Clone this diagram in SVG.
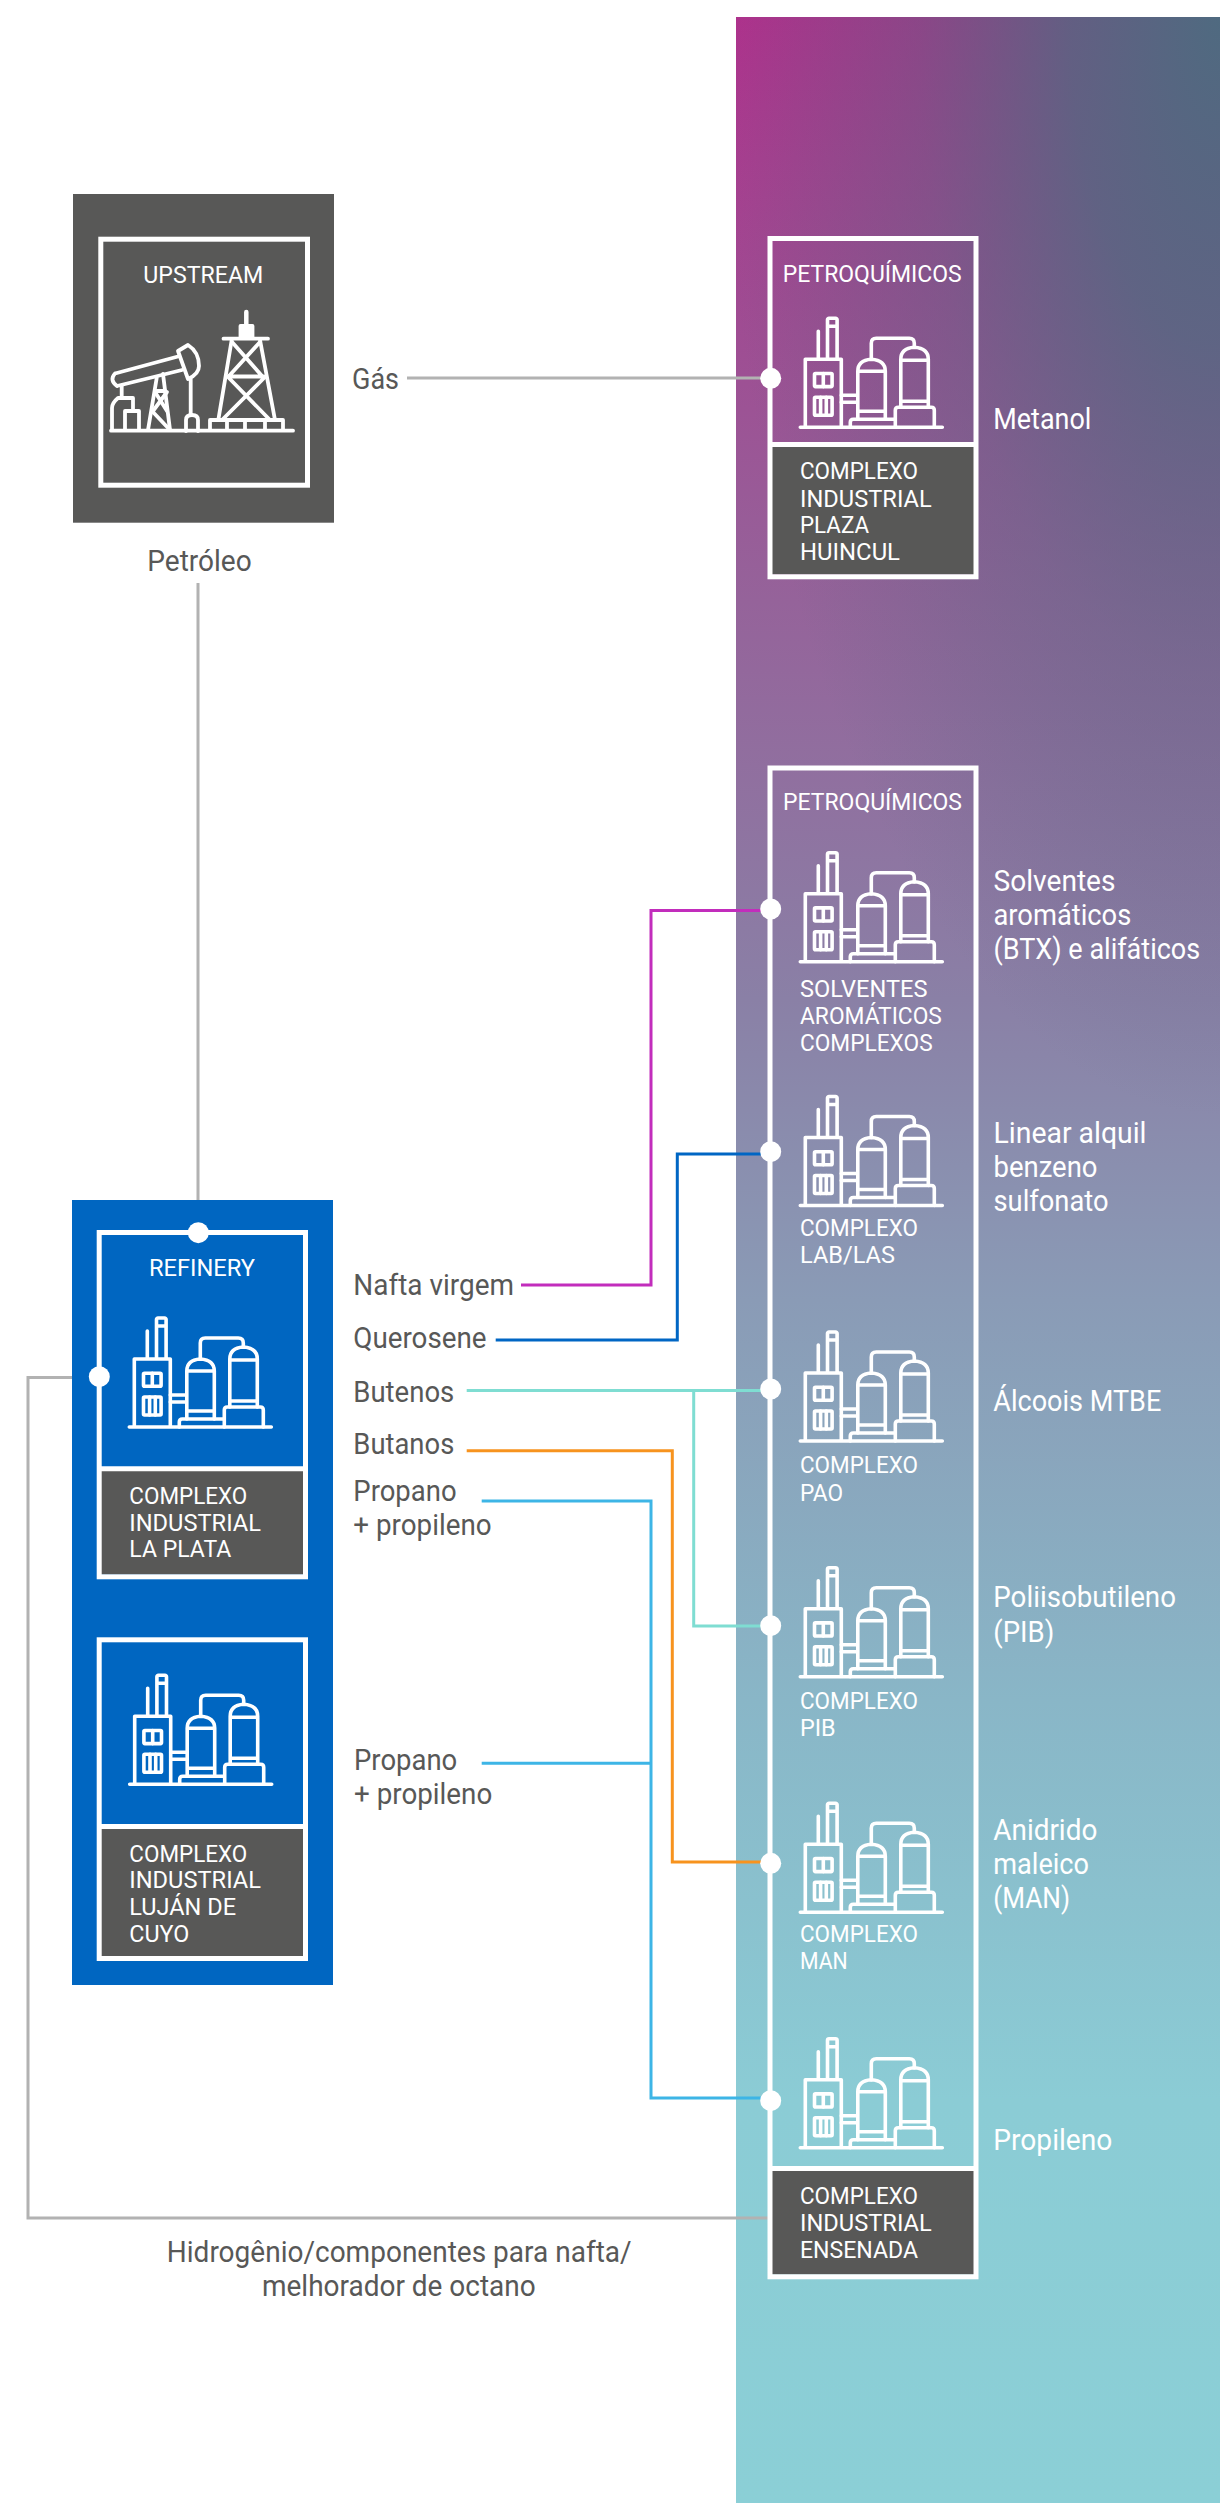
<svg xmlns="http://www.w3.org/2000/svg" xmlns:xlink="http://www.w3.org/1999/xlink" width="1220" height="2503" viewBox="0 0 1220 2503">
<style>
text{font-family:"Roboto","Liberation Sans",sans-serif;font-weight:400;}
.b{font-size:24.5px;fill:#fff;}
.lw{font-size:29px;fill:#fff;}
.ld{font-size:29px;fill:#585857;}
.box{fill:none;stroke:#fff;stroke-width:5;}
.dark{fill:#585857;}
.c{fill:none;stroke-width:3;}
.dot{fill:#fff;}
</style>
<defs>
<linearGradient id="gv" gradientUnits="userSpaceOnUse" x1="0" y1="17" x2="0" y2="2503">
<stop offset="0" stop-color="#B0308C"/><stop offset="0.114" stop-color="#A04A92"/><stop offset="0.235" stop-color="#95639A"/><stop offset="0.395" stop-color="#8A80A6"/><stop offset="0.516" stop-color="#8A9BB6"/><stop offset="0.677" stop-color="#89B6C7"/><stop offset="0.838" stop-color="#8BCCD5"/><stop offset="1" stop-color="#8BCFD6"/>
</linearGradient>
<radialGradient id="gr" gradientUnits="userSpaceOnUse" cx="0" cy="0" r="1" gradientTransform="translate(1220 17) scale(500 1100)">
<stop offset="0" stop-color="#4F6A80" stop-opacity="1"/><stop offset="0.3" stop-color="#4F6A80" stop-opacity="0.8"/><stop offset="0.6" stop-color="#4F6A80" stop-opacity="0.38"/><stop offset="1" stop-color="#4F6A80" stop-opacity="0"/>
</radialGradient>
<g id="plant" fill="none" stroke="#fff" stroke-width="3.6" stroke-linecap="round" stroke-linejoin="round">
<path d="M2,0H144M7,0V-68H43V0M29.200,-68V-107.500a1.500,1.500 0 0 1 1.500,-1.500H37.300a1.500,1.500 0 0 1 1.500,1.500V-68M29.200,-101H38.800M20,-68V-96"/>
<rect x="16.200" y="-53.800" width="17.600" height="13.100" rx="1"/><path d="M25,-53.800V-40.700"/>
<rect x="16.200" y="-30" width="17.600" height="18" rx="1"/><path d="M22.300,-30V-12M28,-30V-12"/>
<path d="M43,-32H58M43,-25H58"/>
<path d="M59.500,-8V-56Q59.500,-67 73,-68Q87,-67 87,-56V-8M59.500,-56H87M59.500,-16H87"/>
<path d="M52,0V-5Q52,-8 55,-8H96"/>
<path d="M102.500,-20V-68Q102.500,-79 116,-80Q130,-79 130,-68V-20M102.500,-67H130M102.500,-26H130"/>
<path d="M97,0V-17Q97,-20 100,-20H133Q136,-20 136,-17V0"/>
<path d="M73,-68V-84Q73,-89 78,-89H111Q116,-89 116,-84V-80"/>
</g>
</defs>
<rect width="1220" height="2503" fill="#fff"/>
<g id="background">
<rect x="736" y="17" width="484" height="2486" fill="url(#gv)"/>
<rect x="736" y="17" width="484" height="2486" fill="url(#gr)"/>
</g>
<g id="connectors">
<path class="c" stroke="#B2B2B2" d="M407,378H768"/>
<path class="c" stroke="#B2B2B2" d="M198,583V1200"/>
<path class="c" stroke="#B2B2B2" d="M72,1377.500H28V2218H768"/>
<path class="c" stroke="#C22DBC" d="M521,1285H651V910.500H768"/>
<path class="c" stroke="#0066C4" d="M495.700,1340H677.300V1154H768"/>
<path class="c" stroke="#7FDDD2" d="M466.700,1390.500H768M693.700,1390.500V1626H768"/>
<path class="c" stroke="#F7931E" d="M466.700,1450.700H672.300V1862H768"/>
<path class="c" stroke="#3DB5E6" d="M481.700,1501H651V2098H768M481.700,1763.300H651"/>
</g>
<g id="upstream">
<rect x="73" y="194" width="261" height="328.700" class="dark"/>
<rect x="100.800" y="239.200" width="206.700" height="246" class="box"/>
<text class="b" x="143.300" y="282.700" textLength="120" lengthAdjust="spacingAndGlyphs">UPSTREAM</text>
<g id="oil-icon" fill="none" stroke="#fff" stroke-width="3.800" stroke-linecap="round" stroke-linejoin="round">
<path d="M111,430.700H293"/>
<path d="M210,430V420H283V430M227,420V430M245,420V430M265,420V430"/>
<path d="M223.500,338.700H268M231.700,340L218.300,420M260,340L275,420"/>
<path d="M232,342L262,376M260,342L229,376M228,376.500H264M228,377L270,420M265,377L222,420"/>
<path d="M246.300,312V326" stroke-width="4.500"/>
<rect x="240.500" y="326" width="12" height="12" fill="#fff"/>
<path d="M115,373.500L178,356.500M117,386L182,370M115,373.500Q109,380 117,386"/>
<path d="M178,351L188,345Q199,352 199,366Q199,374 188,379Z"/>
<path d="M190.700,379V415"/>
<path d="M186,431V420Q186,415 192,415Q198,415 198,420V431"/>
<path d="M156.700,378L148,430M163,374L170,430"/>
<path d="M155,391H165M155,392L167,411M167,392L153,411M152,411L170,430"/>
<path d="M121.700,386V397"/>
<path d="M112,430V408Q112,403 118,398H133V410"/>
<path d="M125,430V411H139V430"/>
</g>
<text class="ld" x="147.300" y="571" textLength="104.400" lengthAdjust="spacingAndGlyphs">Petróleo</text>
</g>
<text id="gas-label" class="ld" x="352" y="389" textLength="47" lengthAdjust="spacingAndGlyphs">Gás</text>
<g id="petro-huincul">
<rect x="772" y="447" width="202" height="127.300" class="dark"/>
<rect x="770" y="238.500" width="206" height="338.300" class="box"/>
<path class="box" d="M770,444.500H976"/>
<circle class="dot" cx="770.700" cy="378.300" r="10.500"/>
<text class="b" x="782.700" y="281.700" textLength="179" lengthAdjust="spacingAndGlyphs">PETROQUÍMICOS</text>
<use href="#plant" xlink:href="#plant" transform="translate(798.300 427.300)"/>
<text class="b" x="800" y="479.300" textLength="118" lengthAdjust="spacingAndGlyphs">COMPLEXO</text>
<text class="b" x="800" y="506.700" textLength="131.700" lengthAdjust="spacingAndGlyphs">INDUSTRIAL</text>
<text class="b" x="800" y="533.300" textLength="69" lengthAdjust="spacingAndGlyphs">PLAZA</text>
<text class="b" x="800" y="560" textLength="100" lengthAdjust="spacingAndGlyphs">HUINCUL</text>
<text class="lw" x="993.300" y="428.700" textLength="98" lengthAdjust="spacingAndGlyphs">Metanol</text>
</g>
<g id="refinery">
<rect x="72" y="1200" width="261" height="785" fill="#0066C1"/>
<g id="la-plata">
<rect x="101" y="1471" width="203" height="103.500" class="dark"/>
<rect x="99.200" y="1232.500" width="206.300" height="344.300" class="box"/>
<path class="box" d="M99.200,1468.800H305.500"/>
<circle class="dot" cx="198.300" cy="1232.700" r="10.500"/>
<circle class="dot" cx="99.300" cy="1376.700" r="10.500"/>
<text class="b" x="149" y="1275.700" textLength="106" lengthAdjust="spacingAndGlyphs">REFINERY</text>
<use href="#plant" xlink:href="#plant" transform="translate(127.300 1427)"/>
<text class="b" x="129.300" y="1504.300" textLength="118" lengthAdjust="spacingAndGlyphs">COMPLEXO</text>
<text class="b" x="129.300" y="1530.700" textLength="131.700" lengthAdjust="spacingAndGlyphs">INDUSTRIAL</text>
<text class="b" x="129.300" y="1557.300" textLength="102" lengthAdjust="spacingAndGlyphs">LA PLATA</text>
</g>
<g id="lujan">
<rect x="101" y="1829" width="203" height="127.500" class="dark"/>
<rect x="99.200" y="1639.800" width="206.300" height="318.700" class="box"/>
<path class="box" d="M99.200,1826.400H305.500"/>
<use href="#plant" xlink:href="#plant" transform="translate(127.700 1784.300)"/>
<text class="b" x="129.300" y="1861.700" textLength="118" lengthAdjust="spacingAndGlyphs">COMPLEXO</text>
<text class="b" x="129.300" y="1888.300" textLength="131.700" lengthAdjust="spacingAndGlyphs">INDUSTRIAL</text>
<text class="b" x="129.300" y="1915" textLength="106.700" lengthAdjust="spacingAndGlyphs">LUJÁN DE</text>
<text class="b" x="129.300" y="1941.700" textLength="60" lengthAdjust="spacingAndGlyphs">CUYO</text>
</g>
</g>
<g id="product-labels">
<text class="ld" x="353.300" y="1295" textLength="160.700" lengthAdjust="spacingAndGlyphs">Nafta virgem</text>
<text class="ld" x="353.300" y="1348" textLength="133.300" lengthAdjust="spacingAndGlyphs">Querosene</text>
<text class="ld" x="353.300" y="1401.700" textLength="101" lengthAdjust="spacingAndGlyphs">Butenos</text>
<text class="ld" x="353.300" y="1454" textLength="101" lengthAdjust="spacingAndGlyphs">Butanos</text>
<text class="ld" x="353.300" y="1500.700" textLength="103.300" lengthAdjust="spacingAndGlyphs">Propano</text>
<text class="ld" x="353.300" y="1535" textLength="138.300" lengthAdjust="spacingAndGlyphs">+ propileno</text>
<text class="ld" x="354" y="1770" textLength="103.300" lengthAdjust="spacingAndGlyphs">Propano</text>
<text class="ld" x="354" y="1804.300" textLength="138.300" lengthAdjust="spacingAndGlyphs">+ propileno</text>
<text class="ld" x="166.800" y="2261.700" textLength="464.800" lengthAdjust="spacingAndGlyphs">Hidrogênio/componentes para nafta/</text>
<text class="ld" x="262" y="2295.700" textLength="273.700" lengthAdjust="spacingAndGlyphs">melhorador de octano</text>
</g>
<g id="petro-ensenada">
<rect x="772" y="2171" width="202" height="103.500" class="dark"/>
<rect x="770" y="768" width="206" height="1508.800" class="box"/>
<path class="box" d="M770,2168.500H976"/>
<text class="b" x="783" y="810" textLength="179" lengthAdjust="spacingAndGlyphs">PETROQUÍMICOS</text>
<g id="solventes">
<circle class="dot" cx="770.700" cy="909" r="10.500"/>
<use href="#plant" xlink:href="#plant" transform="translate(798.300 961.700)"/>
<text class="b" x="800" y="997.300" textLength="127.400" lengthAdjust="spacingAndGlyphs">SOLVENTES</text>
<text class="b" x="800" y="1024.300" textLength="141.900" lengthAdjust="spacingAndGlyphs">AROMÁTICOS</text>
<text class="b" x="800" y="1051" textLength="132.600" lengthAdjust="spacingAndGlyphs">COMPLEXOS</text>
<text class="lw" x="993.500" y="890.700" textLength="122" lengthAdjust="spacingAndGlyphs">Solventes</text>
<text class="lw" x="993.500" y="924.700" textLength="137.800" lengthAdjust="spacingAndGlyphs">aromáticos</text>
<text class="lw" x="993.500" y="959" textLength="206.700" lengthAdjust="spacingAndGlyphs">(BTX) e alifáticos</text>
</g>
<g id="lab-las">
<circle class="dot" cx="770.700" cy="1151.700" r="10.500"/>
<use href="#plant" xlink:href="#plant" transform="translate(798.300 1205.500)"/>
<text class="b" x="800" y="1235.500" textLength="118" lengthAdjust="spacingAndGlyphs">COMPLEXO</text>
<text class="b" x="800" y="1262.500" textLength="95" lengthAdjust="spacingAndGlyphs">LAB/LAS</text>
<text class="lw" x="993.500" y="1142.700" textLength="153" lengthAdjust="spacingAndGlyphs">Linear alquil</text>
<text class="lw" x="993.500" y="1176.700" textLength="104" lengthAdjust="spacingAndGlyphs">benzeno</text>
<text class="lw" x="993.500" y="1210.500" textLength="115" lengthAdjust="spacingAndGlyphs">sulfonato</text>
</g>
<g id="pao">
<circle class="dot" cx="770.700" cy="1389" r="10.500"/>
<use href="#plant" xlink:href="#plant" transform="translate(798.300 1441)"/>
<text class="b" x="800" y="1473.300" textLength="118" lengthAdjust="spacingAndGlyphs">COMPLEXO</text>
<text class="b" x="800" y="1501" textLength="43" lengthAdjust="spacingAndGlyphs">PAO</text>
<text class="lw" x="993.300" y="1410.700" textLength="168" lengthAdjust="spacingAndGlyphs">Álcoois MTBE</text>
</g>
<g id="pib">
<circle class="dot" cx="770.700" cy="1625.700" r="10.500"/>
<use href="#plant" xlink:href="#plant" transform="translate(798.300 1676.700)"/>
<text class="b" x="800" y="1709" textLength="118" lengthAdjust="spacingAndGlyphs">COMPLEXO</text>
<text class="b" x="800" y="1735.700" textLength="35.700" lengthAdjust="spacingAndGlyphs">PIB</text>
<text class="lw" x="993.300" y="1607.300" textLength="182.700" lengthAdjust="spacingAndGlyphs">Poliisobutileno</text>
<text class="lw" x="993.300" y="1641.700" textLength="61" lengthAdjust="spacingAndGlyphs">(PIB)</text>
</g>
<g id="man">
<circle class="dot" cx="770.700" cy="1863.300" r="10.500"/>
<use href="#plant" xlink:href="#plant" transform="translate(798.300 1912.300)"/>
<text class="b" x="800" y="1942.300" textLength="118" lengthAdjust="spacingAndGlyphs">COMPLEXO</text>
<text class="b" x="800" y="1969.300" textLength="47.700" lengthAdjust="spacingAndGlyphs">MAN</text>
<text class="lw" x="993.300" y="1840" textLength="104" lengthAdjust="spacingAndGlyphs">Anidrido</text>
<text class="lw" x="993.300" y="1874" textLength="95.700" lengthAdjust="spacingAndGlyphs">maleico</text>
<text class="lw" x="993.300" y="1907.500" textLength="76.700" lengthAdjust="spacingAndGlyphs">(MAN)</text>
</g>
<g id="ensenada">
<circle class="dot" cx="770.700" cy="2100.700" r="10.500"/>
<use href="#plant" xlink:href="#plant" transform="translate(798.300 2147.700)"/>
<text class="b" x="800" y="2204.300" textLength="118" lengthAdjust="spacingAndGlyphs">COMPLEXO</text>
<text class="b" x="800" y="2230.700" textLength="131.700" lengthAdjust="spacingAndGlyphs">INDUSTRIAL</text>
<text class="b" x="800" y="2257.700" textLength="118" lengthAdjust="spacingAndGlyphs">ENSENADA</text>
<text class="lw" x="993.300" y="2150" textLength="119" lengthAdjust="spacingAndGlyphs">Propileno</text>
</g>
</g>
</svg>
